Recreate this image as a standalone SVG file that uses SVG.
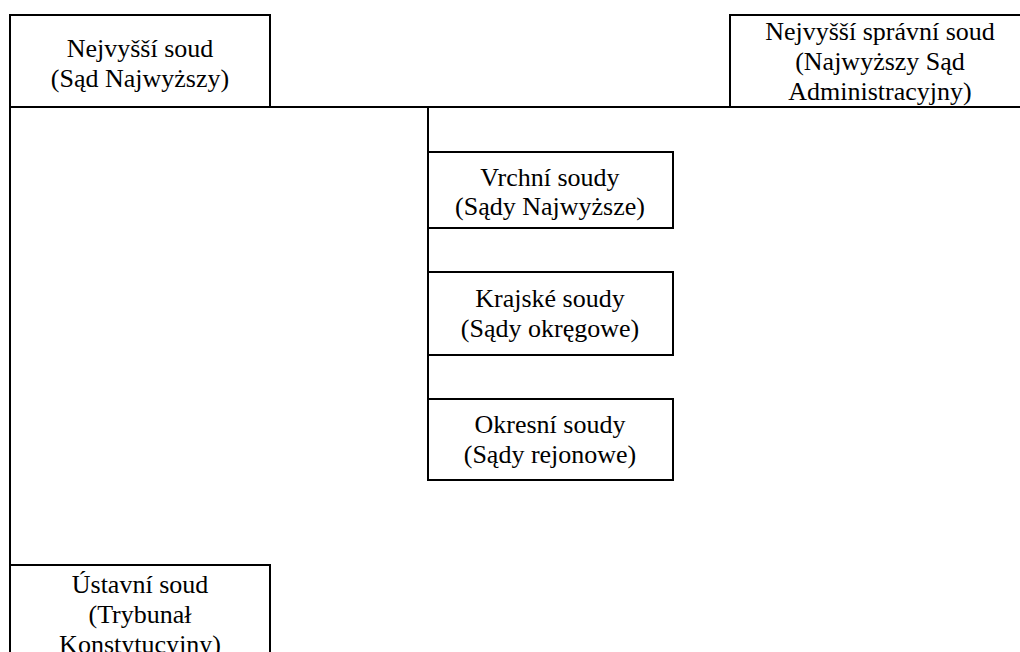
<svg xmlns="http://www.w3.org/2000/svg" width="1020" height="652" viewBox="0 0 1020 652">
<style>
.box{fill:#fff;stroke:#000;stroke-width:2}
.ln{stroke:#000;stroke-width:2;fill:none}
text{font-family:"Liberation Serif","Times New Roman",serif;font-size:26px;fill:#000;text-anchor:middle}
</style>
<rect width="1020" height="652" fill="#fff"/>
<g id="connectors">
<line class="ln" x1="10" y1="107" x2="1020" y2="107"/>
<line class="ln" x1="10" y1="107" x2="10" y2="565"/>
<line class="ln" x1="428" y1="107" x2="428" y2="399"/>
</g>
<g id="n-nejvyssi">
<rect class="box" x="10" y="15" width="260" height="92"/>
<text x="140" y="57">Nejvyšší soud</text>
<text x="140" y="87">(Sąd Najwyższy)</text>
</g>
<g id="n-nss">
<rect class="box" x="730" y="15" width="300" height="92"/>
<text x="880" y="40">Nejvyšší správní soud</text>
<text x="880" y="70">(Najwyższy Sąd</text>
<text x="880" y="100">Administracyjny)</text>
</g>
<g id="n-vrchni">
<rect class="box" x="428" y="152" width="245" height="76"/>
<text x="550" y="186">Vrchní soudy</text>
<text x="550" y="215">(Sądy Najwyższe)</text>
</g>
<g id="n-krajske">
<rect class="box" x="428" y="272" width="245" height="83"/>
<text x="550" y="307">Krajské soudy</text>
<text x="550" y="337">(Sądy okręgowe)</text>
</g>
<g id="n-okresni">
<rect class="box" x="428" y="399" width="245" height="81"/>
<text x="550" y="433">Okresní soudy</text>
<text x="550" y="463">(Sądy rejonowe)</text>
</g>
<g id="n-ustavni">
<rect class="box" x="10" y="565" width="260" height="100"/>
<text x="140" y="593">Ústavní soud</text>
<text x="140" y="623">(Trybunał</text>
<text x="140" y="653">Konstytucyjny)</text>
</g>
</svg>
